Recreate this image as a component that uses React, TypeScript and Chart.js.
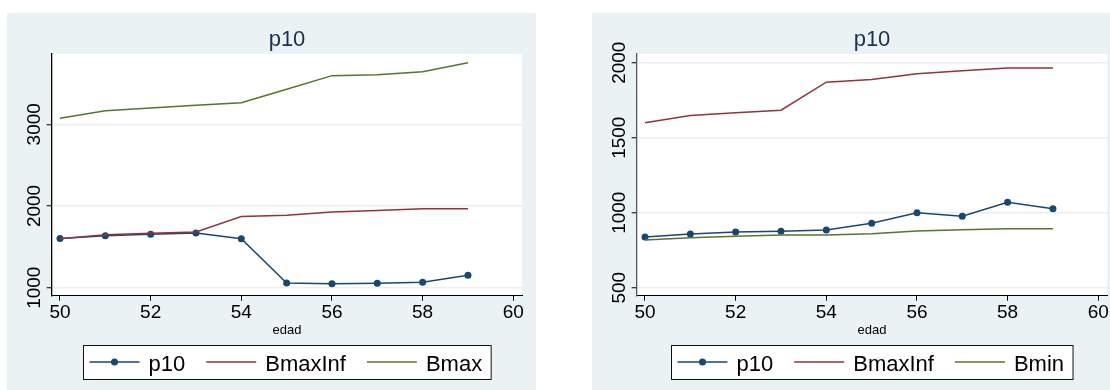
import React, { useEffect, useRef } from "react";
import { Chart, registerables } from "chart.js";

Chart.register(...registerables);

// ---- data ----
const ages = [50, 51, 52, 53, 54, 55, 56, 57, 58, 59];
const xTicks = [50, 52, 54, 56, 58, 60];

const leftP10 = [1603, 1636, 1654, 1670, 1600, 1058, 1049, 1054, 1066, 1152];
const leftBmaxInf = [1600, 1648, 1666, 1683, 1870, 1888, 1927, 1946, 1965, 1965];
const leftBmax = [3073, 3166, 3199, 3232, 3264, 3428, 3595, 3607, 3644, 3754];
const leftYTicks = [1000, 2000, 3000];

const rightP10 = [838, 858, 871, 876, 885, 929, 1000, 976, 1069, 1027];
const rightBmaxInf = [1600, 1648, 1666, 1683, 1870, 1888, 1927, 1946, 1965, 1965];
const rightBmin = [818, 833, 843, 851, 851, 860, 878, 887, 893, 893];
const rightYTicks = [500, 1000, 1500, 2000];

const titleText = "p10";
const xTitle = "edad";

// ---- styles ----
const NAVY = "#1a476f";
const MAROON = "#90353b";
const GREEN = "#55752f";
const BG = "#eaf2f3";
const FONT = '"Liberation Sans", Arial, sans-serif';

const PANEL_W = 529;
const PANEL_H = 377;

type Series = { label: string; values: number[]; color: string; marker: boolean };

type PanelProps = {
  left: number;
  series: Series[];
  yMin: number;
  yMax: number;
  yTicks: number[];
  yAxisColor: string;
};

function Panel({ left, series, yMin, yMax, yTicks, yAxisColor }: PanelProps) {
  const ref = useRef<HTMLCanvasElement>(null);

  useEffect(() => {
    const canvas = ref.current;
    if (!canvas) return;

    const decor = {
      id: "decor",
      beforeDraw(chart: any) {
        const { ctx, chartArea: ca } = chart;
        ctx.save();
        ctx.fillStyle = BG;
        ctx.fillRect(0, 0, chart.width, chart.height);
        ctx.fillStyle = "#ffffff";
        ctx.fillRect(ca.left, ca.top, ca.right - ca.left, ca.bottom - ca.top);
        ctx.restore();
      },
      afterDraw(chart: any) {
        const { ctx, chartArea: ca } = chart;
        const cx = (ca.left + ca.right) / 2;
        ctx.save();
        // title
        ctx.fillStyle = "#1c2e5a";
        ctx.font = `22px ${FONT}`;
        ctx.textAlign = "center";
        ctx.textBaseline = "alphabetic";
        ctx.fillText(titleText, cx, 33);
        // x title
        ctx.fillStyle = "#000";
        ctx.font = `13px ${FONT}`;
        ctx.fillText(xTitle, cx, 321);
        // y tick labels rotated
        const ys = chart.scales.y;
        ctx.font = `19px ${FONT}`;
        ys.ticks.forEach((t: any) => {
          const py = ys.getPixelForValue(t.value);
          ctx.save();
          ctx.translate(32.5, py);
          ctx.rotate(-Math.PI / 2);
          ctx.textAlign = "center";
          ctx.textBaseline = "alphabetic";
          ctx.fillText(String(t.value), 0, 0);
          ctx.restore();
        });
        // legend
        ctx.font = `22px ${FONT}`;
        const padL = 6, lineW = 50, gapText = 9, gapItem = 21, padR = 9;
        const widths = series.map((s) => ctx.measureText(s.label).width);
        let total = padL + padR;
        widths.forEach((w, i) => {
          total += lineW + gapText + w + (i < widths.length - 1 ? gapItem : 0);
        });
        const bx = Math.round(cx - total / 2) + 0.5;
        const by = 332.5;
        const bh = 34;
        ctx.fillStyle = "#fff";
        ctx.fillRect(bx, by, total, bh);
        ctx.strokeStyle = "#111";
        ctx.lineWidth = 1;
        ctx.strokeRect(bx, by, total, bh);
        let x = bx + padL;
        const ly = 349;
        series.forEach((s, i) => {
          ctx.strokeStyle = s.color;
          ctx.lineWidth = 1.5;
          ctx.beginPath();
          ctx.moveTo(x, ly);
          ctx.lineTo(x + lineW, ly);
          ctx.stroke();
          if (s.marker) {
            ctx.fillStyle = s.color;
            ctx.beginPath();
            ctx.arc(x + lineW / 2, ly, 3.5, 0, Math.PI * 2);
            ctx.fill();
          }
          x += lineW + gapText;
          ctx.fillStyle = "#000";
          ctx.textAlign = "left";
          ctx.fillText(s.label, x, 357.7);
          x += widths[i] + gapItem;
        });
        ctx.restore();
      },
    };

    const datasets = series.map((s, i) => ({
      label: s.label,
      data: ages.map((a, k) => ({ x: a, y: s.values[k] })),
      borderColor: s.color,
      backgroundColor: s.color,
      borderWidth: 1.5,
      pointRadius: s.marker ? 3.5 : 0,
      pointBorderWidth: 0,
      pointHoverRadius: 0,
      tension: 0,
      fill: false,
      order: series.length - i,
    }));

    const chart = new Chart(canvas, {
      type: "line",
      data: { datasets },
      options: {
        animation: false,
        responsive: false,
        maintainAspectRatio: false,
        devicePixelRatio: 1,
        events: [],
        layout: { padding: { left: 0, top: 41, right: 13.7, bottom: 0 } },
        plugins: {
          legend: { display: false },
          title: { display: false },
          tooltip: { enabled: false },
        },
        scales: {
          x: {
            type: "linear",
            min: 49.817,
            max: 60.199,
            afterBuildTicks: (s: any) => {
              s.ticks = xTicks.map((v) => ({ value: v }));
            },
            afterFit: (s: any) => {
              s.height = PANEL_H - 282.7;
              s.paddingLeft = 0;
              s.paddingRight = 0;
            },
            grid: {
              drawOnChartArea: false,
              drawTicks: true,
              tickLength: 5,
              tickColor: "#000",
              tickWidth: 1,
            },
            border: { display: true, color: "#000", width: 1 },
            ticks: {
              font: { family: FONT, size: 19 },
              color: "#000",
              padding: 1,
              maxRotation: 0,
              minRotation: 0,
              autoSkip: false,
            },
          },
          y: {
            type: "linear",
            min: yMin,
            max: yMax,
            afterBuildTicks: (s: any) => {
              s.ticks = yTicks.map((v) => ({ value: v }));
            },
            afterFit: (s: any) => {
              s.width = 44.7;
              s.paddingTop = 0;
              s.paddingBottom = 0;
            },
            grid: {
              color: "#e8f0f1",
              lineWidth: 1.5,
              drawTicks: true,
              tickLength: 5,
              tickColor: "#000",
              tickWidth: 1,
            },
            border: { display: true, color: yAxisColor, width: 1.3 },
            ticks: { display: false },
          },
        },
      },
      plugins: [decor],
    } as any);

    return () => chart.destroy();
  }, []);

  return (
    <canvas
      ref={ref}
      width={PANEL_W}
      height={PANEL_H}
      style={{ position: "absolute", left, top: 13, width: PANEL_W, height: PANEL_H, display: "block" }}
    />
  );
}

export default function App() {
  const leftSeries: Series[] = [
    { label: "p10", values: leftP10, color: NAVY, marker: true },
    { label: "BmaxInf", values: leftBmaxInf, color: MAROON, marker: false },
    { label: "Bmax", values: leftBmax, color: GREEN, marker: false },
  ];
  const rightSeries: Series[] = [
    { label: "p10", values: rightP10, color: NAVY, marker: true },
    { label: "BmaxInf", values: rightBmaxInf, color: MAROON, marker: false },
    { label: "Bmin", values: rightBmin, color: GREEN, marker: false },
  ];
  return (
    <div
      style={{
        position: "absolute",
        left: 0,
        top: 0,
        width: 1110,
        height: 390,
        overflow: "hidden",
        background: "#fff",
      }}
    >
      <Panel left={7} series={leftSeries} yMin={902} yMax={3860} yTicks={leftYTicks} yAxisColor="#000" />
      <Panel left={592} series={rightSeries} yMin={446.7} yMax={2058} yTicks={rightYTicks} yAxisColor="#555" />
    </div>
  );
}
